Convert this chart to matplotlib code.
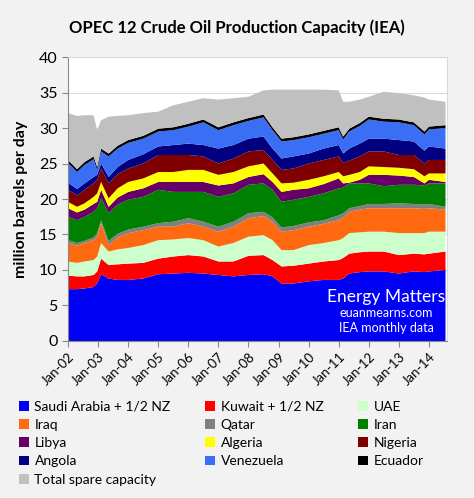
import numpy as np
import matplotlib
matplotlib.use("Agg")
import matplotlib.pyplot as plt

plt.rcParams['font.family'] = ['Lato', 'DejaVu Sans']

# decimal years of the readings
fechas = [2002.0, 2002.3, 2002.55, 2002.85, 2002.97, 2003.1, 2003.35, 2003.65,
          2004.0, 2004.5, 2005.0, 2005.5, 2006.0, 2006.5, 2007.0, 2007.5,
          2008.0, 2008.5, 2008.8, 2009.1, 2009.5, 2010.0, 2010.5, 2011.0,
          2011.15, 2011.35, 2011.7, 2012.0, 2012.5, 2013.0, 2013.5, 2013.85,
          2014.0, 2014.55]

# million barrels per day
saudi = [7.3, 7.3, 7.4, 7.6, 8.1, 9.4, 8.8, 8.6, 8.6, 8.8, 9.4, 9.5, 9.6, 9.5, 9.3, 9.1,
         9.3, 9.4, 9.1, 8.1, 8.1, 8.4, 8.6, 8.6, 8.8, 9.5, 9.7, 9.8, 9.8, 9.5, 9.8, 9.7, 9.8, 10.0]
kuwait = [1.9, 1.8, 1.7, 1.7, 1.7, 2.2, 1.9, 2.2, 2.3, 2.2, 2.2, 2.4, 2.5, 2.4, 1.9, 2.1,
          2.7, 2.7, 2.3, 2.4, 2.5, 2.5, 2.6, 2.8, 2.9, 2.8, 2.8, 2.8, 2.8, 2.6, 2.5, 2.5, 2.5, 2.6]
uae = [2.0, 1.9, 2.1, 2.1, 2.1, 2.2, 1.9, 2.1, 2.2, 2.5, 2.6, 2.4, 2.4, 2.3, 2.1, 2.6,
       2.7, 2.8, 2.8, 2.3, 2.2, 2.6, 2.6, 2.8, 2.8, 2.9, 2.8, 2.8, 2.8, 3.1, 2.9, 3.0, 3.1, 2.8]
iraq = [2.6, 2.4, 2.6, 2.8, 2.8, 2.8, 0.9, 1.7, 2.1, 2.1, 1.9, 1.8, 2.1, 1.9, 2.1, 2.3,
        2.6, 2.7, 2.6, 2.6, 2.8, 2.6, 2.7, 2.8, 2.9, 3.0, 3.2, 3.3, 3.3, 3.5, 3.5, 3.4, 3.3, 3.1]
qatar = [0.4, 0.4, 0.3, 0.4, 0.5, 0.4, 0.6, 0.5, 0.5, 0.5, 0.5, 0.7, 0.7, 0.7, 0.7, 0.7,
         0.7, 0.6, 0.6, 0.6, 0.6, 0.6, 0.5, 0.7, 0.6, 0.5, 0.5, 0.6, 0.6, 0.7, 0.6, 0.6, 0.6, 0.4]
iran = [3.3, 3.2, 3.4, 3.6, 3.5, 3.1, 3.9, 4.1, 4.2, 4.2, 4.7, 4.2, 3.7, 4.2, 4.2, 4.0,
        4.0, 4.0, 3.9, 3.6, 3.7, 3.6, 3.8, 3.8, 3.6, 3.5, 3.2, 2.9, 2.5, 2.6, 2.7, 2.7, 2.9, 3.3]
libya = [1.2, 1.1, 1.0, 1.1, 0.9, 1.2, 0.9, 1.0, 1.1, 1.2, 1.1, 1.4, 1.4, 1.4, 1.6, 1.4,
         1.1, 1.3, 1.1, 1.4, 1.4, 1.2, 1.3, 1.4, 0.6, 0.1, 0.5, 1.2, 1.6, 1.3, 1.1, 0.3, 0.5, 0.2]
algeria = [0.9, 0.8, 0.9, 1.0, 1.2, 1.1, 1.2, 1.3, 1.4, 1.4, 1.4, 1.4, 1.7, 1.7, 1.5, 1.6,
           1.5, 1.5, 1.2, 1.2, 1.0, 1.2, 1.1, 0.9, 1.0, 1.1, 1.1, 1.2, 1.1, 1.1, 1.1, 1.0, 0.9, 1.2]
nigeria = [1.7, 1.6, 1.9, 1.9, 1.9, 1.9, 2.1, 2.0, 1.9, 2.1, 2.4, 2.4, 2.1, 1.9, 1.6, 1.9,
           2.1, 1.9, 1.9, 1.9, 2.0, 2.3, 2.3, 2.2, 1.9, 2.0, 2.2, 2.1, 2.2, 1.8, 2.0, 1.8, 1.9, 1.9]
angola = [1.0, 0.9, 0.9, 0.9, 0.7, 0.7, 0.9, 1.0, 1.2, 1.3, 1.2, 1.4, 1.6, 1.6, 2.1, 1.9,
          1.8, 1.9, 1.6, 1.6, 1.7, 1.4, 1.6, 1.6, 1.3, 1.7, 1.8, 1.8, 1.8, 2.1, 1.9, 1.8, 1.9, 1.6]
venezuela = [2.8, 2.4, 2.6, 2.5, 0.7, 1.7, 2.9, 2.6, 2.4, 2.2, 2.1, 2.1, 2.4, 3.2, 2.6, 2.8,
             2.5, 2.7, 2.6, 2.4, 2.3, 2.3, 2.1, 2.1, 2.0, 2.4, 2.5, 2.7, 2.4, 2.5, 2.3, 2.3, 2.4, 2.9]
ecuador = [0.4, 0.4, 0.4, 0.4, 0.4, 0.4, 0.4, 0.4, 0.4, 0.4, 0.4, 0.4, 0.4, 0.4, 0.4, 0.4,
           0.4, 0.4, 0.4, 0.4, 0.4, 0.4, 0.4, 0.4, 0.4, 0.4, 0.4, 0.4, 0.4, 0.4, 0.4, 0.4, 0.4, 0.4]
spare = [6.6, 7.5, 6.6, 5.8, 5.2, 4.0, 5.2, 4.2, 3.5, 3.2, 2.4, 3.1, 3.1, 3.0, 3.9, 3.4,
         3.0, 3.4, 5.3, 6.9, 6.7, 6.3, 5.8, 5.2, 4.9, 3.8, 3.3, 2.8, 3.8, 3.7, 3.8, 4.8, 3.8, 3.3]

nombres = ["Saudi Arabia + 1/2 NZ", "Kuwait + 1/2 NZ", "UAE", "Iraq", "Qatar", "Iran",
           "Libya", "Algeria", "Nigeria", "Angola", "Venezuela", "Ecuador",
           "Total spare capacity"]
colores = ["#0000f5", "#ff0000", "#ccffcc", "#ff6a10", "#808080", "#008000",
           "#660066", "#ffff00", "#800000", "#000080", "#3a6ff5", "#000000", "#c0c0c0"]

anios = list(range(2002, 2015))
etiquetas = ["Jan-%02d" % (a % 100) for a in anios]

series = [saudi, kuwait, uae, iraq, qatar, iran, libya, algeria, nigeria,
          angola, venezuela, ecuador, spare]

fig = plt.figure(figsize=(4.74, 4.98), dpi=100)
fig.patch.set_facecolor("#f2f2f2")
ax = fig.add_axes([0.1435, 0.3153, 0.7995, 0.5702])
ax.set_facecolor("white")

polys = ax.stackplot(fechas, *series, colors=colores, labels=nombres, linewidth=0)

ax.set_xlim(2002.0, 2014.6)
ax.set_ylim(0, 40)
ax.set_yticks(range(0, 41, 5))
ax.set_xticks(anios)
ax.set_xticklabels(etiquetas, rotation=45, ha="right", rotation_mode="anchor", fontsize=9.5)
ax.tick_params(axis="y", labelsize=11.5, length=4, color="#888888")
ax.tick_params(axis="x", length=4, color="#888888", pad=3)
ax.grid(axis="y", color="#d9d9d9", linewidth=0.8)
ax.set_axisbelow(True)
for lado in ["top", "right"]:
    ax.spines[lado].set_color("#d9d9d9")
for lado in ["left", "bottom"]:
    ax.spines[lado].set_color("#888888")

ax.set_ylabel("million barrels per day", fontsize=11.5, fontweight="bold", labelpad=8)
fig.text(0.5, 0.945, "OPEC 12 Crude Oil Production Capacity (IEA)", ha="center",
         va="center", fontsize=12, fontweight="bold")

ax.text(0.839, 0.155, "Energy Matters", transform=ax.transAxes, color="white",
        ha="center", va="center", fontsize=12.5)
ax.text(0.839, 0.099, "euanmearns.com", transform=ax.transAxes, color="white",
        ha="center", va="center", fontsize=9)
ax.text(0.839, 0.046, "IEA monthly data", transform=ax.transAxes, color="white",
        ha="center", va="center", fontsize=9)

# legend filled by columns, so reorder to read row by row
orden = [0, 3, 6, 9, 12, 1, 4, 7, 10, 2, 5, 8, 11]
fig.legend([polys[i] for i in orden], [nombres[i] for i in orden], ncol=3,
           loc="upper left", bbox_to_anchor=(0.02, 0.215), frameon=False,
           fontsize=10, handlelength=0.7, handleheight=0.7, handletextpad=0.4,
           columnspacing=2.5, labelspacing=0.45, borderpad=0.2)

fig.savefig("out.png", dpi=100, facecolor=fig.get_facecolor())
